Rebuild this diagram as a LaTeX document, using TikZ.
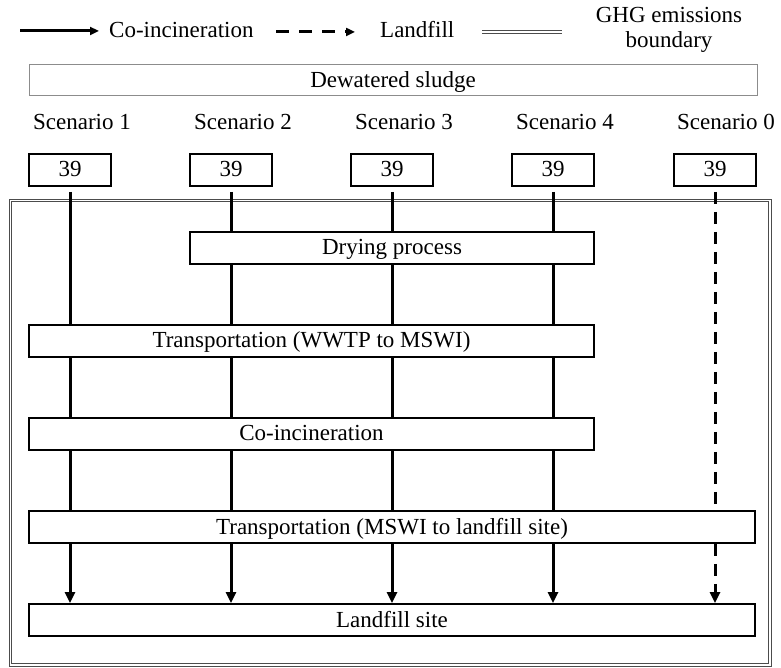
\documentclass[tikz,border=0pt]{standalone}
\usepackage{fontspec}
\setmainfont{Liberation Serif}
\usetikzlibrary{arrows.meta}
\tikzset{
  txt/.style={inner sep=0pt, font=\fontsize{23}{25}\selectfont},
  box/.style={draw, line width=1.8pt, inner sep=0pt, minimum height=32pt, fill=white, text depth=2pt, font=\fontsize{23}{25}\selectfont},
  flow/.style={line width=3pt},
  flowarrow/.style={line width=3pt, -{Triangle[length=11pt,width=10pt]}},
  dflow/.style={line width=3pt, dash pattern=on 12pt off 8pt},
  dflowarrow/.style={line width=3pt, dash pattern=on 12pt off 8pt, -{Triangle[length=11pt,width=10pt]}},
  boundary/.style={draw=black!70, double=white, double distance=1.8pt, line width=0.9pt},
}
\begin{document}
\begin{tikzpicture}[x=1pt,y=-1pt]
\useasboundingbox (0,0) rectangle (781,668);

% legend
\coordinate (la1) at (20,31);
\coordinate (la2) at (99,31);
\draw[line width=3pt, -{Triangle[length=9pt,width=8pt]}] (la1) -- (la2);
\node[txt, anchor=west] (lco) at (109,30) {Co-incineration};
\coordinate (lb1) at (276,32);
\coordinate (lb2) at (355,32);
\draw[line width=3pt, dash pattern=on 13pt off 10pt, -{Triangle[length=9pt,width=8pt]}] (lb1) -- (lb2);
\node[txt, anchor=west] (llf) at (380,30) {Landfill};
\coordinate (lc1) at (482,32);
\coordinate (lc2) at (562,32);
\draw[boundary] (lc1) -- (lc2);
\node[txt, align=center] (lghg) at (669,30) {GHG emissions\\boundary};

% dewatered sludge
\node[box, draw=black!45, line width=1pt, minimum width=728pt, minimum height=31pt] (ds) at (393,80.5) {Dewatered sludge};

% scenario labels
\node[txt] (sc1) at (82,122) {Scenario 1};
\node[txt] (sc2) at (243,122) {Scenario 2};
\node[txt] (sc3) at (404,122) {Scenario 3};
\node[txt] (sc4) at (565,122) {Scenario 4};
\node[txt] (sc0) at (726,122) {Scenario 0};

% boundary
\draw[boundary] (10.5,200.5) rectangle (770,665);

% 39 boxes
\node[box, minimum width=82pt] (n1) at (70,170) {39};
\node[box, minimum width=82pt] (n2) at (231,170) {39};
\node[box, minimum width=82pt] (n3) at (392,170) {39};
\node[box, minimum width=82pt] (n4) at (553,170) {39};
\node[box, minimum width=82pt] (n0) at (715,170) {39};

% process boxes
\node[box, minimum width=404pt] (dry) at (392,248) {Drying process};
\node[box, minimum width=565pt] (tw) at (311.5,341) {Transportation (WWTP to MSWI)};
\node[box, minimum width=565pt] (co) at (311.5,434) {Co-incineration};
\node[box, minimum width=726pt] (tm) at (392,527) {Transportation (MSWI to landfill site)};
\node[box, minimum width=726pt] (lf) at (392,620) {Landfill site};

% scenario 1
\draw[flow, shorten <=5pt] (n1.south) -- (n1.south |- tw.north);
\draw[flow] (n1.south |- tw.south) -- (n1.south |- co.north);
\draw[flow] (n1.south |- co.south) -- (n1.south |- tm.north);
\draw[flowarrow] (n1.south |- tm.south) -- (n1.south |- lf.north);

% scenarios 2-4
\foreach \n in {n2,n3,n4}{
  \draw[flow, shorten <=5pt] (\n.south) -- (\n.south |- dry.north);
  \draw[flow] (\n.south |- dry.south) -- (\n.south |- tw.north);
  \draw[flow] (\n.south |- tw.south) -- (\n.south |- co.north);
  \draw[flow] (\n.south |- co.south) -- (\n.south |- tm.north);
  \draw[flowarrow] (\n.south |- tm.south) -- (\n.south |- lf.north);
}

% scenario 0
\draw[dflow, shorten <=5pt] (n0.south) -- (n0.south |- tm.north);
\draw[dflowarrow] (n0.south |- tm.south) -- (n0.south |- lf.north);
\end{tikzpicture}
\end{document}
